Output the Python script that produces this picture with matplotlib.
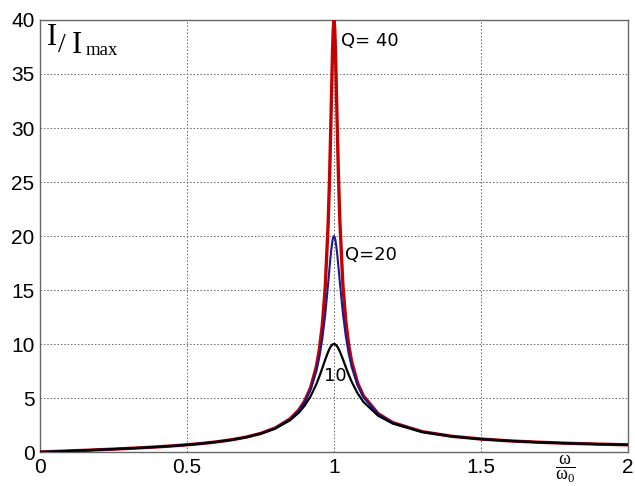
import matplotlib
matplotlib.use("Agg")
import matplotlib.pyplot as plt

plt.rcParams["mathtext.fontset"] = "custom"
plt.rcParams["mathtext.rm"] = "Liberation Serif"
plt.rcParams["mathtext.it"] = "Liberation Serif:italic"

# frequency ratio w/w0 (read positions)
x = [0.0, 0.05, 0.1, 0.15, 0.2, 0.25, 0.3, 0.35, 0.4, 0.45, 0.5, 0.55, 0.6, 0.65, 0.7, 0.75,
     0.8, 0.85, 0.88, 0.9, 0.92, 0.94, 0.95, 0.96, 0.97, 0.98, 0.985, 0.99, 0.995, 0.9975,
     1.0, 1.0025, 1.005, 1.01, 1.015, 1.02, 1.03, 1.04, 1.05, 1.06, 1.08, 1.1, 1.15, 1.2,
     1.3, 1.4, 1.5, 1.6, 1.7, 1.8, 1.9, 2.0]

q10 = [0.0, 0.050, 0.101, 0.153, 0.208, 0.267, 0.330, 0.399, 0.476, 0.564, 0.665, 0.786,
       0.933, 1.118, 1.360, 1.690, 2.169, 2.929, 3.634, 4.281, 5.138, 6.283, 6.979, 7.746,
       8.540, 9.272, 9.572, 9.804, 9.950, 9.988, 10.0, 9.988, 9.951, 9.808, 9.584, 9.297,
       8.608, 7.867, 7.156, 6.510, 5.444, 4.640, 3.359, 2.631, 1.851, 1.443, 1.192, 1.020,
       0.896, 0.801, 0.726, 0.665]

q20 = [0.0, 0.050, 0.101, 0.153, 0.208, 0.267, 0.330, 0.399, 0.476, 0.564, 0.667, 0.788,
       0.937, 1.124, 1.369, 1.708, 2.209, 3.028, 3.829, 4.609, 5.737, 7.488, 8.760, 10.443,
       12.687, 15.556, 17.115, 18.557, 19.610, 19.900, 20.0, 19.901, 19.612, 18.582, 17.183,
       15.677, 12.914, 10.748, 9.118, 7.882, 6.173, 5.067, 3.511, 2.702, 1.876, 1.455, 1.198,
       1.024, 0.899, 0.803, 0.728, 0.667]

q40 = [0.0, 0.050, 0.101, 0.153, 0.208, 0.267, 0.330, 0.399, 0.476, 0.564, 0.667, 0.788,
       0.937, 1.125, 1.372, 1.713, 2.219, 3.054, 3.882, 4.704, 5.923, 7.916, 9.467, 11.709,
       15.184, 21.045, 25.493, 31.173, 37.126, 39.221, 40.0, 39.225, 37.152, 31.295, 25.720,
       21.350, 15.578, 12.144, 9.924, 8.385, 6.407, 5.194, 3.552, 2.721, 1.882, 1.457, 1.200,
       1.025, 0.899, 0.804, 0.728, 0.667]

xticks = [0, 0.5, 1, 1.5, 2]
xticklabels = ["0", "0.5", "1", "1.5", "2"]
yticks = [0, 5, 10, 15, 20, 25, 30, 35, 40]

fig = plt.figure(figsize=(6.35, 4.86), dpi=100)
ax = fig.add_axes([40/635, 34/486, 588/635, 432/486])

ax.plot(x, q40, color="#c40000", lw=2.4, zorder=3)
ax.plot(x, q20, color="#1a1a8c", lw=1.5, zorder=4)
ax.plot(x, q10, color="black", lw=1.6, zorder=5)

ax.set_xlim(0, 2)
ax.set_ylim(0, 40)
ax.set_xticks(xticks)
ax.set_xticklabels(xticklabels)
ax.set_yticks(yticks)
ax.grid(True, linestyle=(0, (1.5, 2)), color="#666666", lw=0.7)
ax.tick_params(length=0, labelsize=15, pad=4)
for lab in ax.get_xticklabels() + ax.get_yticklabels():
    lab.set_fontfamily("Liberation Sans")
for s in ax.spines.values():
    s.set_color("#666666")
    s.set_linewidth(1.0)

ax.text(1.024, 38.1, "Q= 40", fontsize=13, va="center", ha="left", family="DejaVu Sans", zorder=6)
ax.text(1.037, 18.2, "Q=20", fontsize=13, va="center", ha="left", family="DejaVu Sans", zorder=6)
ax.text(0.967, 7.0, "10", fontsize=13, va="center", ha="left", family="DejaVu Sans", zorder=6)

fig.text(565/635, 1 - 469/486, r"$\dfrac{\mathrm{ω}}{\mathrm{ω}_0}$", fontsize=13,
         ha="center", va="center")

def ftext(px, py, s, size):
    fig.text(px/635, 1 - py/486, s, fontsize=size, family="Liberation Serif",
             va="baseline", ha="left")

ftext(47, 45, "I", 22)
ftext(58, 52, "/", 20)
ftext(72, 53, "I", 22)
ftext(86, 55, "max", 13.5)

fig.savefig("out.png", dpi=100)
